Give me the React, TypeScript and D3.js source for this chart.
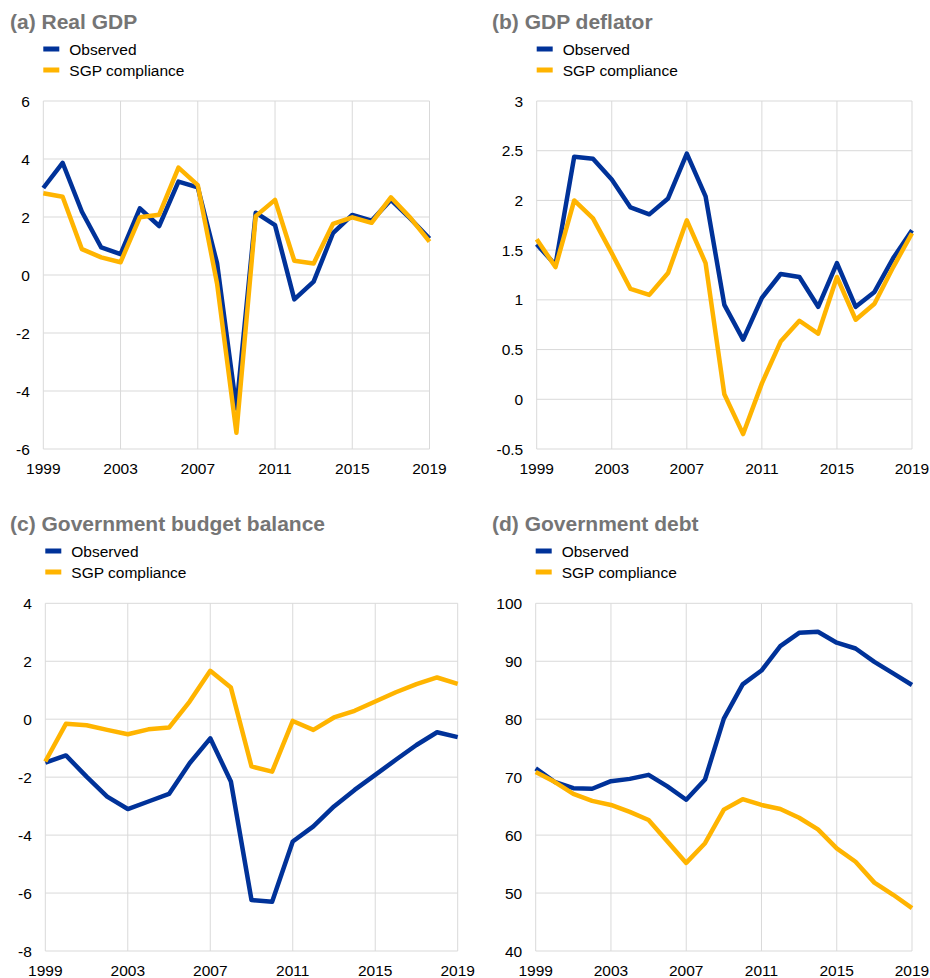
import React from "react";
import * as d3 from "d3";

const years = d3.range(1999, 2020);
const xTicks = [1999, 2003, 2007, 2011, 2015, 2019];

const gdpObserved = [3.0, 3.87, 2.18, 0.95, 0.72, 2.3, 1.69, 3.22, 3.02, 0.4, -4.6, 2.15, 1.72, -0.84, -0.23, 1.44, 2.07, 1.87, 2.59, 1.95, 1.26];
const gdpSGP = [2.82, 2.7, 0.89, 0.61, 0.44, 1.99, 2.08, 3.7, 3.1, -0.3, -5.44, 2.03, 2.59, 0.49, 0.4, 1.76, 1.99, 1.8, 2.68, 1.98, 1.15];

const deflObserved = [1.56, 1.35, 2.44, 2.42, 2.21, 1.93, 1.86, 2.02, 2.47, 2.04, 0.95, 0.6, 1.02, 1.26, 1.23, 0.93, 1.37, 0.93, 1.08, 1.42, 1.7];
const deflSGP = [1.61, 1.33, 2.0, 1.82, 1.47, 1.11, 1.05, 1.27, 1.8, 1.37, 0.05, -0.35, 0.16, 0.58, 0.79, 0.66, 1.23, 0.8, 0.96, 1.33, 1.67];

const balObserved = [-1.5, -1.25, -1.98, -2.67, -3.1, -2.84, -2.58, -1.52, -0.66, -2.15, -6.24, -6.3, -4.22, -3.7, -3.01, -2.44, -1.92, -1.4, -0.89, -0.45, -0.62];
const balSGP = [-1.46, -0.16, -0.21, -0.37, -0.52, -0.35, -0.29, 0.61, 1.67, 1.09, -1.63, -1.81, -0.06, -0.37, 0.06, 0.29, 0.61, 0.93, 1.21, 1.44, 1.22];

const debtObserved = [71.5, 69.2, 68.1, 68.0, 69.3, 69.7, 70.4, 68.4, 66.1, 69.6, 80.1, 86.0, 88.4, 92.6, 94.9, 95.1, 93.2, 92.2, 89.9, 87.9, 85.9];
const debtSGP = [70.9, 69.2, 67.1, 65.9, 65.2, 64.0, 62.6, 58.9, 55.2, 58.6, 64.4, 66.2, 65.2, 64.5, 63.0, 61.0, 57.7, 55.4, 51.8, 49.7, 47.4];

const gdpTicks = [-6, -4, -2, 0, 2, 4, 6];
const deflTicks = [-0.5, 0, 0.5, 1, 1.5, 2, 2.5, 3];
const balTicks = [-8, -6, -4, -2, 0, 2, 4];
const debtTicks = [40, 50, 60, 70, 80, 90, 100];

const seriesNames = ["Observed", "SGP compliance"];
const BLUE = "#003299";
const YELLOW = "#FFB400";
const FONT = "Arial, 'Liberation Sans', sans-serif";

type PanelProps = {
  title: string;
  titleX: number;
  titleY: number;
  left: number;
  right: number;
  top: number;
  bottom: number;
  ticks: number[];
  obs: number[];
  sgp: number[];
};

function Panel(p: PanelProps) {
  const x = d3.scaleLinear().domain([1999, 2019]).range([p.left, p.right]);
  const y = d3
    .scaleLinear()
    .domain([p.ticks[0], p.ticks[p.ticks.length - 1]])
    .range([p.bottom, p.top]);
  const line = d3
    .line<number>()
    .x((_, i) => x(years[i]))
    .y((d) => y(d));
  const legendX = p.left;
  return (
    <g>
      <text x={p.titleX} y={p.titleY} fontFamily={FONT} fontWeight="bold" fontSize={21} fill="#757575">
        {p.title}
      </text>
      {seriesNames.map((n, i) => (
        <g key={n}>
          <rect x={legendX} y={p.titleY + 17.5 + i * 21} width={16} height={5} fill={i === 0 ? BLUE : YELLOW} />
          <text x={legendX + 26} y={p.titleY + 26 + i * 21} fontFamily={FONT} fontSize={15.5} fill="#000">
            {n}
          </text>
        </g>
      ))}
      {p.ticks.map((t) => (
        <g key={"y" + t}>
          <line x1={p.left} x2={p.right} y1={y(t)} y2={y(t)} stroke="#d9d9d9" strokeWidth={1} />
          <text x={p.left - 13.5} y={y(t)} dy="0.36em" textAnchor="end" fontFamily={FONT} fontSize={15.5} fill="#000">
            {String(t)}
          </text>
        </g>
      ))}
      {xTicks.map((t) => (
        <g key={"x" + t}>
          <line x1={x(t)} x2={x(t)} y1={p.top} y2={p.bottom} stroke="#d9d9d9" strokeWidth={1} />
          <text x={x(t)} y={p.bottom + 25} textAnchor="middle" fontFamily={FONT} fontSize={15.5} fill="#000">
            {t}
          </text>
        </g>
      ))}
      <path d={line(p.obs) || ""} fill="none" stroke={BLUE} strokeWidth={4.5} strokeLinejoin="round" />
      <path d={line(p.sgp) || ""} fill="none" stroke={YELLOW} strokeWidth={4.5} strokeLinejoin="round" />
    </g>
  );
}

export default function App() {
  return (
    <div style={{ position: "absolute", left: 0, top: 0 }}>
      <svg width={930} height={978} style={{ display: "block", background: "#fff" }}>
        <Panel title="(a) Real GDP" titleX={10} titleY={29} left={43.3} right={429.5} top={101} bottom={449} ticks={gdpTicks} obs={gdpObserved} sgp={gdpSGP} />
        <Panel title="(b) GDP deflator" titleX={492} titleY={29} left={536.7} right={912} top={101} bottom={449} ticks={deflTicks} obs={deflObserved} sgp={deflSGP} />
        <Panel title="(c) Government budget balance" titleX={10} titleY={531} left={45.3} right={457.7} top={603.3} bottom={951} ticks={balTicks} obs={balObserved} sgp={balSGP} />
        <Panel title="(d) Government debt" titleX={492} titleY={531} left={535.7} right={912} top={603.3} bottom={951} ticks={debtTicks} obs={debtObserved} sgp={debtSGP} />
      </svg>
    </div>
  );
}
